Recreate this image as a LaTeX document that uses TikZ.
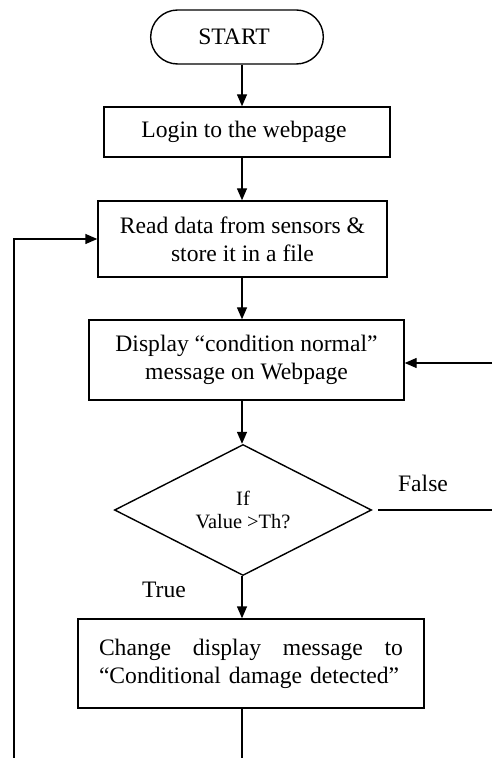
\documentclass[tikz,border=0pt]{standalone}
\usepackage{fontspec}
\setmainfont{Liberation Serif}
\usetikzlibrary{shapes.geometric, shapes.misc, arrows.meta, positioning}

\begin{document}
\begin{tikzpicture}[x=0.5pt, y=-0.5pt, font=\fontsize{11.8}{14}\selectfont,
                box/.style = {draw, rectangle, line width=0.7pt, align=center},
                flow/.style = {line width=0.7pt, -{Triangle[length=6pt, width=5pt]}},
                link/.style = {line width=0.7pt}]
                \useasboundingbox (0,0) rectangle (492,758);

                \node [box, rounded rectangle, minimum width=93pt, minimum height=27pt] (start) at (237,37) { START };
                \node [box, minimum width=143pt, minimum height=25pt] (login) at (247,132) { Login to the webpage };
                \node [box, minimum width=144.5pt, minimum height=38pt] (read) at (242.5,239) { Read data from sensors \&\\ store it in a file };
                \node [box, minimum width=157.5pt, minimum height=40pt] (display) at (246.5,360) { Display “condition normal”\\ message on Webpage };
                \node [draw, diamond, aspect=2, line width=0.7pt, minimum width=128.5pt, minimum height=65.5pt, inner sep=0pt,
                       align=center, font=\fontsize{10.2}{11.5}\selectfont] (test) at (243,510) { If\\ Value >Th? };
                \node [box, minimum width=173pt, minimum height=44.5pt, text width=152pt, align=left] (alert) at (251,663.5)
                      { Change\hfill display\hfill message\hfill to\\ “Conditional damage detected”\\[-4pt] };

                \node (false) at (423,483) { False };
                \node (true) at (164,590) { True };

                \coordinate (axis) at (242,0);
                \coordinate (lbot) at (14,758);
                \coordinate (abot) at (242,758);
                \coordinate (rin) at (492,363);
                \coordinate (fout) at (492,510);

                \draw [flow] (axis |- start.south) to (axis |- login.north);
                \draw [flow] (axis |- login.south) to (axis |- read.north);
                \draw [flow] (axis |- read.south) to (axis |- display.north);
                \draw [flow] (axis |- display.south) to (axis |- test.north);
                \draw [flow] (axis |- test.south) to (axis |- alert.north);
                \draw [link] (axis |- alert.south) to (abot);
                \draw [flow] (lbot) |- (read.west);
                \draw [link, shorten <=3pt] (test.east) to (fout);
                \draw [flow] (rin) to (rin -| display.east);
            \end{tikzpicture}
\end{document}
